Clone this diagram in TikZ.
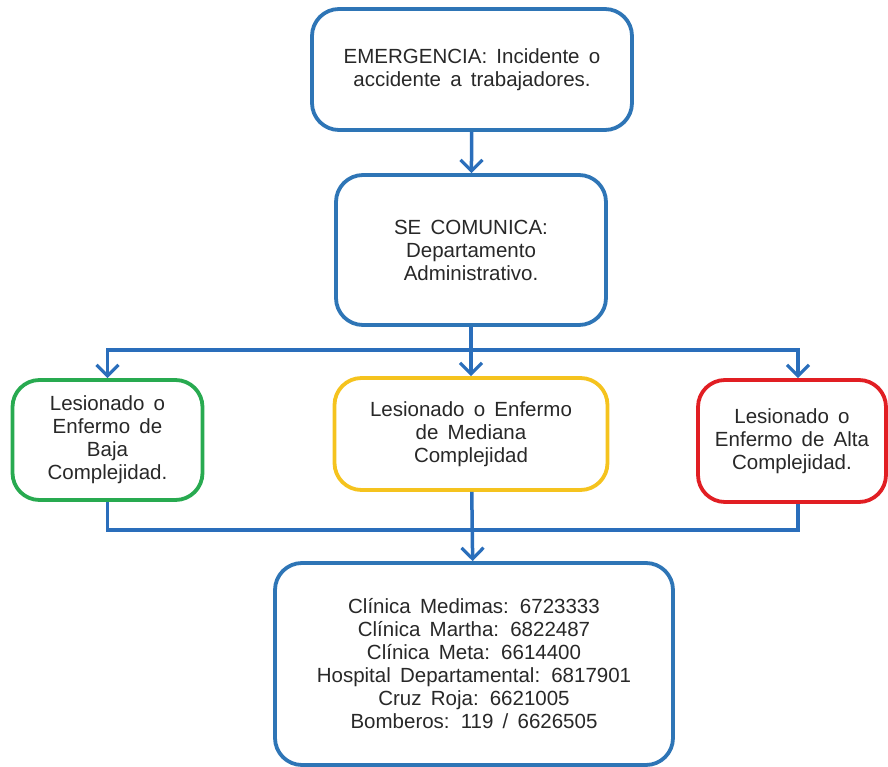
\documentclass[tikz,border=0pt]{standalone}
\usepackage{fontspec}
\setmainfont{Liberation Sans}
\usetikzlibrary{arrows.meta}
\definecolor{bblue}{RGB}{46,117,182}
\definecolor{lblue}{RGB}{42,110,187}
\definecolor{bgreen}{RGB}{40,170,80}
\definecolor{byellow}{RGB}{245,195,30}
\definecolor{bred}{RGB}{225,30,35}
\definecolor{txt}{RGB}{40,40,40}
\newcommand\boxfont{\fontsize{20.5pt}{23pt}\selectfont\spaceskip=0.45em plus 0.1em\relax}
\tikzset{
  box/.style={draw=#1, line width=3.8pt, rounded corners=27pt, fill=white,
    align=center, text=txt, inner sep=2pt, font=\boxfont},
  conn/.style={draw=lblue, line width=3.5pt},
  arr/.style={conn, -{Straight Barb[length=11pt,width=22pt,line width=3.2pt]}}
}
\begin{document}
\begin{tikzpicture}[x=1pt,y=-1pt]
\useasboundingbox (0,0) rectangle (888,767);
\node[box=bblue, minimum width=320pt, minimum height=121pt] (emer) at (472,69.5)
  {EMERGENCIA:  Incidente  o\\accidente  a  trabajadores.};
\node[box=bblue, minimum width=270pt, minimum height=150pt] (com) at (471,250)
  {SE COMUNICA:\\Departamento\\Administrativo.};
\node[box=bgreen, minimum width=190pt, minimum height=120pt] (baja) at (107.5,440)
  {Lesionado  o\\Enfermo de\\Baja\\Complejidad.};
\node[box=byellow, minimum width=273pt, minimum height=112pt] (med) at (471,434)
  {Lesionado  o Enfermo\\de Mediana\\Complejidad};
\node[box=bred, minimum width=188pt, minimum height=122pt] (alta) at (792,441)
  {Lesionado  o\\Enfermo de Alta\\Complejidad.};
\node[box=bblue, minimum width=398pt, minimum height=202pt] (tel) at (474,664)
  {Clínica  Medimas:  6723333\\Clínica  Martha:  6822487\\Clínica  Meta:  6614400\\Hospital  Departamental:  6817901\\Cruz Roja:  6621005\\Bomberos:  119  /  6626505};
\coordinate (hl) at (471,350);
\coordinate (bl) at (471,530);
\coordinate (altaN) at ([xshift=6pt]alta.north);
\coordinate (altaS) at ([xshift=6pt]alta.south);
\draw[arr] (emer) -- (com);
\draw[arr] (com) -- (med);
\draw[arr] (hl) -| (baja.north);
\draw[arr] (hl) -| (altaN);
\draw[conn] (baja.south) |- (bl) -| (altaS);
\draw[arr] (med) -- (tel);
\end{tikzpicture}
\end{document}
